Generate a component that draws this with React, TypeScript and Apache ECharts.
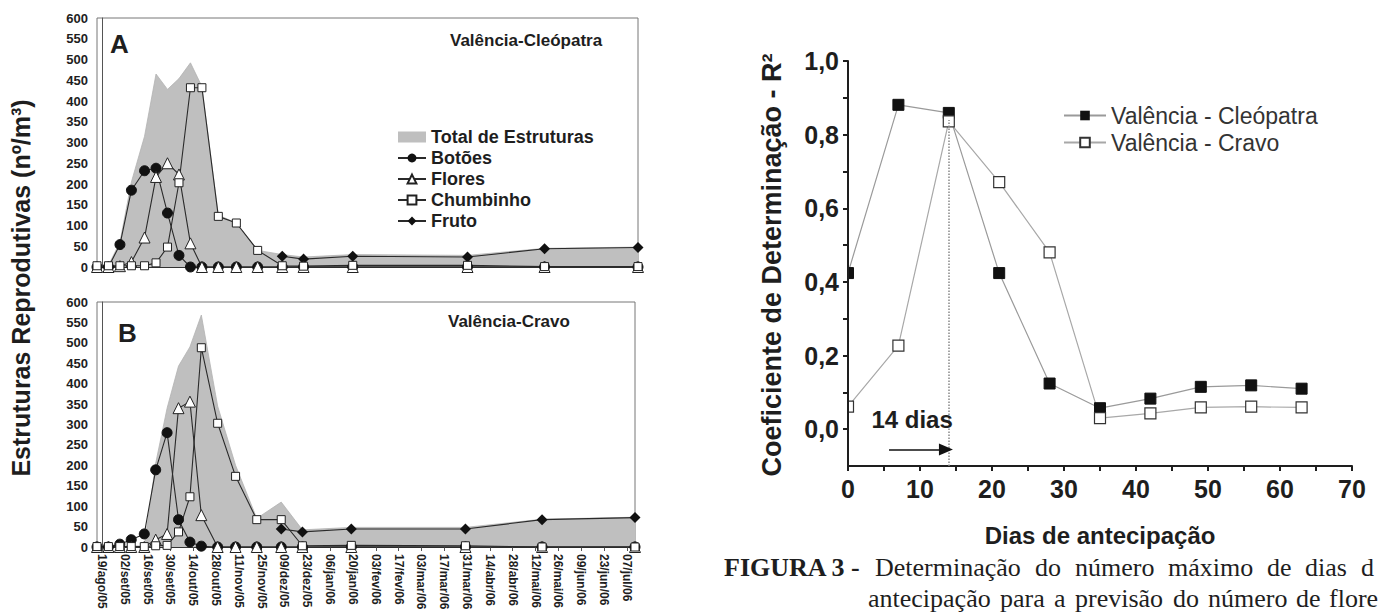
import React, { useEffect, useRef } from 'react';
import * as echarts from 'echarts';

// ---------- Data: left panels (A: Valência-Cleópatra, B: Valência-Cravo) ----------
// sampling dates as day offsets from 19/ago/05
const sampleDays = [-3, 4, 11, 18, 26, 33, 40, 47, 54, 61, 71, 82, 95, 110, 123, 153, 223, 270, 327];
const tickDays = [0, 14, 28, 42, 56, 70, 84, 98, 112, 126, 140, 154, 168, 182, 196, 210, 224, 238, 252, 266, 280, 294, 308, 322];
const dateLabels = [
  '19/ago/05', '02/set/05', '16/set/05', '30/set/05', '14/out/05', '28/out/05', '11/nov/05', '25/nov/05',
  '09/dez/05', '23/dez/05', '06/jan/06', '20/jan/06', '03/fev/06', '17/fev/06', '03/mar/06', '17/mar/06',
  '31/mar/06', '14/abr/06', '28/abr/06', '12/mai/06', '26/mai/06', '09/jun/06', '23/jun/06', '07/jul/06',
];
const leftYTicks = [0, 50, 100, 150, 200, 250, 300, 350, 400, 450, 500, 550, 600];

const totalA = [3, 4, 60, 205, 315, 465, 428, 454, 492, 435, 125, 106, 40, 30, 24, 30, 28, 45, 48];
const botoesA = [0, 0, 54, 185, 232, 238, 130, 28, 0, 0, 0, 0, 0, 0, 0, 0, 0, 0, 0];
const floresA = [0, 0, 2, 12, 71, 217, 250, 223, 57, 0, 0, 0, 0, 0, 0, 0, 0, 0, 0];
const chumbinhoA = [3, 3, 3, 3, 3, 10, 48, 203, 432, 432, 122, 106, 40, 3, 2, 4, 4, 1, 1];
const frutoA = [null, null, null, null, null, null, null, null, null, null, null, null, null, 26, 19, 26, 24, 44, 47];

const totalB = [1, 1, 2, 3, 2, 205, 340, 443, 490, 568, 345, 200, 70, 110, 42, 48, 48, 68, 73];
const botoesB = [0, 0, 7, 18, 32, 189, 280, 67, 12, 2, 0, 0, 0, 0, 0, 0, 0, 0, 0];
const floresB = [0, 0, 0, 0, 0, 18, 32, 340, 356, 78, 0, 0, 0, 0, 0, 0, 0, 0, 0];
const chumbinhoB = [1, 1, 1, 1, 1, 3, 4, 37, 123, 488, 303, 173, 67, 67, 3, 4, 3, 0, 0];
const frutoB = [null, null, null, null, null, null, null, null, null, null, null, null, null, 44, 37, 44, 44, 67, 72];

// ---------- Data: right panel ----------
const antecipacaoDias = [0, 7, 14, 21, 28, 35, 42, 49, 56, 63];
const r2Cleopatra = [0.424, 0.881, 0.859, 0.424, 0.124, 0.057, 0.083, 0.115, 0.119, 0.110];
const r2Cravo = [0.061, 0.227, 0.836, 0.671, 0.480, 0.030, 0.043, 0.059, 0.061, 0.059];
const r2LabelTicks = [0, 0.2, 0.4, 0.6, 0.8, 1.0];
const r2MinorTicks = [0, 0.1, 0.2, 0.3, 0.4, 0.5, 0.6, 0.7, 0.8, 0.9, 1.0];

const SANS = '"Liberation Sans", Arial, sans-serif';
const SERIF = '"Liberation Serif", "Times New Roman", serif';
const DARK = '#1e1e1e';
const GRAY_AREA = '#bfbfbf';
const R2_SYMBOL = 11;

const pairs = (vals: (number | null)[]) =>
  sampleDays.map((d, i) => [d, vals[i]] as [number, number | null]).filter((p) => p[1] !== null);

function leftSeries(idx: number, total: number[], botoes: number[], flores: number[], chumb: number[], fruto: (number | null)[]) {
  const common = { xAxisIndex: idx, yAxisIndex: idx, type: 'line', lineStyle: { color: '#2a2a2a', width: 1.1 } };
  return [
    {
      name: 'Total de Estruturas', type: 'line', xAxisIndex: idx, yAxisIndex: idx, data: pairs(total),
      symbol: 'none', lineStyle: { color: '#b3b3b3', width: 0.8 }, areaStyle: { color: GRAY_AREA, opacity: 1 },
      itemStyle: { color: GRAY_AREA },
    },
    {
      ...common, name: 'Fruto', data: pairs(fruto), symbol: 'diamond', symbolSize: 11,
      itemStyle: { color: '#111' },
    },
    {
      ...common, name: 'Botões', data: pairs(botoes), symbol: 'circle', symbolSize: 10,
      itemStyle: { color: '#111', borderColor: '#111' },
    },
    {
      ...common, name: 'Flores', data: pairs(flores), symbol: 'triangle', symbolSize: 11,
      itemStyle: { color: '#fff', borderColor: '#222', borderWidth: 1 },
    },
    {
      ...common, name: 'Chumbinho', data: pairs(chumb), symbol: 'rect', symbolSize: 8,
      itemStyle: { color: '#fff', borderColor: '#222', borderWidth: 1 },
    },
  ];
}

function leftYAxis(idx: number) {
  return {
    gridIndex: idx, type: 'value', min: leftYTicks[0], max: leftYTicks[leftYTicks.length - 1], interval: 50,
    axisLine: { show: true, lineStyle: { color: '#555', width: 1 } },
    axisTick: { show: false }, splitLine: { show: false },
    axisLabel: { fontSize: 13, fontWeight: 'bold', color: DARK, fontFamily: SANS, margin: 9 },
  };
}

function txt(text: string, x: number, y: number, fontSize: number, opts: any = {}) {
  return {
    type: 'text', x, y, rotation: opts.rotation || 0, silent: true,
    style: {
      text, fontSize, fontWeight: opts.weight || 'bold', fontFamily: opts.family || SANS,
      fill: opts.fill || DARK, textAlign: opts.align || 'left', textVerticalAlign: opts.valign || 'top',
      align: opts.align || 'left', verticalAlign: opts.valign || 'top',
    },
  };
}

export default function App() {
  const ref = useRef<HTMLDivElement>(null);
  useEffect(() => {
    document.body.style.margin = '0';
    if (!ref.current) return;
    const chart = echarts.init(ref.current, undefined, { renderer: 'svg' });

    const capLine1: [string, number, boolean][] = [
      ['FIGURA 3 -', 724, true], ['Determinação', 875, false], ['do', 1035, false], ['número', 1075, false],
      ['máximo', 1168, false], ['de', 1267, false], ['dias', 1305, false], ['d', 1361, false],
    ];
    const capLine2: [string, number][] = [
      ['antecipação', 868], ['para', 1000], ['a', 1054], ['previsão', 1075], ['do', 1173],
      ['número', 1208], ['de', 1296], ['flore', 1329],
    ];

    const baseGraphic: any[] = [
      txt('A', 110, 31, 26),
      txt('B', 118, 320, 26),
      txt('Valência-Cleópatra', 450, 32, 17),
      txt('Valência-Cravo', 448, 313, 17),
      txt('Estruturas Reprodutivas (nº/m³)', 21, 288, 25, { rotation: Math.PI / 2, align: 'center', valign: 'middle' }),
      txt('Coeficiente de Determinação - R²', 772, 265, 27, { rotation: Math.PI / 2, align: 'center', valign: 'middle' }),
      ...capLine1.map(([w, x, b]) => txt(w, x, 567, 26, { family: SERIF, weight: b ? 'bold' : 'normal', valign: 'middle' })),
      ...capLine2.map(([w, x]) => txt(w, x, 598, 26, { family: SERIF, weight: 'normal', valign: 'middle' })),
    ];

    const option: any = {
      animation: false,
      backgroundColor: '#fff',
      grid: [
        { left: 97, top: 18, width: 541, height: 249, show: true, borderColor: '#777', borderWidth: 1 },
        { left: 97, top: 302, width: 538, height: 245, show: true, borderColor: '#777', borderWidth: 1 },
        { left: 848, top: 61, width: 504, height: 405 },
      ],
      xAxis: [
        {
          gridIndex: 0, type: 'value', min: sampleDays[0], max: sampleDays[sampleDays.length - 1],
          axisLine: { onZero: false, lineStyle: { color: '#333' } }, axisTick: { show: false }, axisLabel: { show: false },
          splitLine: { show: false },
        },
        {
          gridIndex: 1, type: 'value', min: sampleDays[0], max: sampleDays[sampleDays.length - 1],
          axisLine: { onZero: false, lineStyle: { color: '#333' } },
          axisTick: { show: true, customValues: tickDays, length: 4, lineStyle: { color: '#555' } },
          axisLabel: {
            show: true, customValues: tickDays, rotate: -90, fontSize: 12, fontWeight: 'bold', color: DARK,
            fontFamily: SANS, margin: 7,
            formatter: (v: number) => dateLabels[tickDays.indexOf(v)] ?? '',
          },
          splitLine: { show: false },
        },
        {
          gridIndex: 2, type: 'value', min: 0, max: 70, interval: 10,
          axisLine: { onZero: false, lineStyle: { color: DARK, width: 2 } },
          axisTick: { show: true, length: 5, lineStyle: { color: DARK, width: 2 } },
          minorTick: { show: true, splitNumber: 2, length: 5, lineStyle: { color: DARK, width: 2 } },
          axisLabel: { fontSize: 25, fontWeight: 'bold', color: DARK, fontFamily: SANS, margin: 10 },
          splitLine: { show: false },
          name: 'Dias de antecipação', nameLocation: 'middle', nameGap: 57,
          nameTextStyle: { fontSize: 24, fontWeight: 'bold', color: DARK, fontFamily: SANS },
        },
      ],
      yAxis: [
        leftYAxis(0),
        leftYAxis(1),
        {
          gridIndex: 2, type: 'value', min: -0.1, max: 1.0, z: 20,
          axisLine: { show: true, onZero: false, lineStyle: { color: DARK, width: 2 } },
          axisTick: { show: true, customValues: r2MinorTicks, length: 5, lineStyle: { color: DARK, width: 2 } },
          axisLabel: {
            customValues: r2LabelTicks, fontSize: 25, fontWeight: 'bold', color: DARK, fontFamily: SANS, margin: 9,
            formatter: (v: number) => v.toFixed(1).replace('.', ','),
          },
          splitLine: { show: false },
        },
      ],
      legend: [
        {
          data: [
            { name: 'Total de Estruturas', icon: 'rect', itemStyle: { color: GRAY_AREA } },
            'Botões', 'Flores', 'Chumbinho', 'Fruto',
          ],
          orient: 'vertical', left: 392, top: 123, itemWidth: 28, itemHeight: 11, itemGap: 3,
          selectedMode: false,
          textStyle: { fontSize: 18, fontWeight: 'bold', color: DARK, fontFamily: SANS, lineHeight: 18 },
        },
        {
          data: ['Valência - Cleópatra', 'Valência - Cravo'],
          orient: 'vertical', left: 1058, top: 99, itemWidth: 42, itemHeight: 12, itemGap: 4,
          selectedMode: false,
          textStyle: { fontSize: 23, color: '#333', fontFamily: SANS, lineHeight: 23 },
        },
      ],
      series: [
        ...leftSeries(0, totalA, botoesA, floresA, chumbinhoA, frutoA),
        ...leftSeries(1, totalB, botoesB, floresB, chumbinhoB, frutoB),
        {
          name: 'Valência - Cleópatra', type: 'line', xAxisIndex: 2, yAxisIndex: 2,
          data: antecipacaoDias.map((d, i) => [d, r2Cleopatra[i]]),
          symbol: 'rect', symbolSize: R2_SYMBOL, lineStyle: { color: '#9a9a9a', width: 1.2 },
          itemStyle: { color: '#111', borderColor: '#111' },
          markLine: {
            silent: true, symbol: ['none', 'none'], label: { show: false },
            lineStyle: { type: 'dotted', color: '#888', width: 1.5 },
            data: [[{ coord: [14, -0.1] }, { coord: [14, 0.84] }]],
          },
        },
        {
          name: 'Valência - Cravo', type: 'line', xAxisIndex: 2, yAxisIndex: 2,
          data: antecipacaoDias.map((d, i) => [d, r2Cravo[i]]),
          symbol: 'rect', symbolSize: R2_SYMBOL, lineStyle: { color: '#a8a8a8', width: 1.2 },
          itemStyle: { color: '#fff', borderColor: '#333', borderWidth: 1.2 },
          markLine: {
            silent: true, symbol: ['none', 'triangle'], symbolSize: [12, 14], label: { show: false },
            lineStyle: { type: 'solid', color: '#111', width: 1.5 },
            data: [[{ coord: [5.7, -0.055] }, { coord: [13.6, -0.055] }]],
          },
          markPoint: {
            silent: true,
            data: [{
              coord: [8.9, 0.025], symbol: 'circle', symbolSize: 1, itemStyle: { color: 'rgba(0,0,0,0)' },
              label: { show: true, position: 'inside', formatter: '14 dias', fontSize: 24, fontWeight: 'bold', color: DARK, fontFamily: SANS },
            }],
          },
        },
      ],
      graphic: baseGraphic,
    };
    chart.setOption(option);

    // The symbols sitting on the y axis (x = 0) are clipped by the plot area in the reference:
    // hide their left halves with white masks positioned through the chart's own scale.
    const masks = [r2Cleopatra[0], r2Cravo[0]].map((v) => {
      const p = chart.convertToPixel({ gridIndex: 2 }, [antecipacaoDias[0], v]) as number[];
      return {
        type: 'rect', silent: true, z: 10,
        shape: { x: p[0] - R2_SYMBOL / 2 - 2, y: p[1] - R2_SYMBOL / 2 - 1.5, width: R2_SYMBOL / 2 + 1, height: R2_SYMBOL + 3 },
        style: { fill: '#fff' },
      };
    });
    chart.setOption({ graphic: [...baseGraphic, ...masks] });

    return () => chart.dispose();
  }, []);
  return <div ref={ref} style={{ width: 1380, height: 614 }} />;
}
